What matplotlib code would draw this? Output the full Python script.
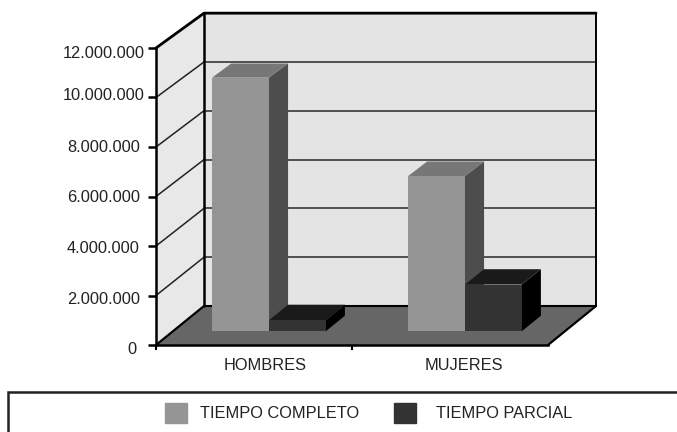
import matplotlib
matplotlib.use('Agg')
import matplotlib.pyplot as plt
from matplotlib.patches import Rectangle, Patch
from matplotlib.transforms import ScaledTranslation

plt.rcParams['font.family'] = ['Liberation Sans', 'DejaVu Sans']

# Workers by sex and type of working day
categories = ['HOMBRES', 'MUJERES']
tiempo_completo = [10300000, 6300000]
tiempo_parcial = [450000, 1900000]
tick_values = [0, 2000000, 4000000, 6000000, 8000000, 10000000, 12000000]
tick_labels = ['0', '2.000.000', '4.000.000', '6.000.000', '8.000.000', '10.000.000', '12.000.000']

fig = plt.figure(figsize=(6.77, 4.32), dpi=100)
ax = fig.add_axes([156 / 677, (432 - 345) / 432, 392 / 677, 297 / 432])
ax.set_xlim(0, 2)
ax.set_ylim(0, 12000000)

# Oblique projection: depth 0 is the front plane, depth 1 the back wall
DX = 0.245
DY = 1576000
SHRINK = 0.014


def project(x, y, depth):
    return x + DX * depth, y * (1 - SHRINK * depth) + DY * depth


def face(points, color, z, **kwargs):
    xs, ys = zip(*[project(*p) for p in points])
    ax.fill(xs, ys, color=color, lw=0, zorder=z, clip_on=False, **kwargs)


def line(points, lw, color='black', z=2):
    xs, ys = zip(*[project(*p) for p in points])
    ax.plot(xs, ys, color=color, lw=lw, zorder=z, clip_on=False, solid_capstyle='round')


def box(x0, x1, value, front, top, side, z):
    d0, d1 = 0.35, 0.75
    face([(x0, 0, d0), (x1, 0, d0), (x1, value, d0), (x0, value, d0)], front, z + 0.2)
    face([(x0, value, d0), (x1, value, d0), (x1, value, d1), (x0, value, d1)], top, z + 0.1)
    face([(x1, 0, d0), (x1, 0, d1), (x1, value, d1), (x1, value, d0)], side, z)


top = tick_values[-1]

# Walls and floor
face([(0, 0, 1), (2, 0, 1), (2, top, 1), (0, top, 1)], '#e4e4e4', 1)
face([(0, 0, 0), (0, 0, 1), (0, top, 1), (0, top, 0)], '#e8e8e8', 1)
face([(0, 0, 0), (2, 0, 0), (2, 0, 1), (0, 0, 1)], '#666666', 1)

# Gridlines on both walls
for v in tick_values[1:-1]:
    line([(0, v, 0), (0, v, 1)], 1.1, '#222222')
    line([(0, v, 1), (2, v, 1)], 1.3, '#444444')

# Frame of the box
line([(0, top, 0), (0, top, 1), (2, top, 1)], 2.0)
line([(0, 0, 1), (0, top, 1)], 1.8)
line([(2, 0, 1), (2, top, 1)], 1.4)
line([(0, 0, 1), (2, 0, 1)], 1.5)
line([(0, 0, 0), (0, 0, 1)], 1.6)
line([(2, 0, 0), (2, 0, 1)], 1.6)

# Bars
centers = [0.49, 1.49]
width = 0.29
for i, c in enumerate(centers):
    box(c - width, c, tiempo_completo[i], '#959595', '#777777', '#4d4d4d', 5 + i)
    box(c, c + width, tiempo_parcial[i], '#333333', '#1a1a1a', '#000000', 5.5 + i)

# Front axes
ax.patch.set_visible(False)
for s in ['top', 'right']:
    ax.spines[s].set_visible(False)
ax.spines['left'].set_linewidth(1.8)
ax.spines['bottom'].set_linewidth(1.8)
ax.spines['left'].set_zorder(4)
ax.spines['bottom'].set_zorder(4)
ax.set_yticks(tick_values)
ax.set_yticklabels(tick_labels, fontsize=11.8, color='#222222')
ax.tick_params(axis='y', length=5.8, width=1.8, pad=2.5)
ax.set_xticks([0, 1])
ax.set_xticklabels([])
ax.tick_params(axis='x', length=3.6, width=1.5)

# The value labels are not evenly placed next to their ticks (shifts in pixels)
label_dx = [-7.5, -4.5, -4.5, -4.5, -4.5, 0.5, 0.5]
label_dy = [-3, -2, -1, 0, 0.5, 3, -4.5]
for lab, dx, dy in zip(ax.get_yticklabels(), label_dx, label_dy):
    shift = ScaledTranslation(dx / 100, dy / 100, fig.dpi_scale_trans)
    lab.set_transform(lab.get_transform() + shift)

# Category names sit under the bars rather than under the ticks
ax.set_xticks([0.555, 1.57], labels=categories, minor=True, fontsize=11.8, color='#222222')
ax.tick_params(axis='x', which='minor', length=0, pad=9)

# Legend box, open towards the right and bottom edges
fig.add_artist(Rectangle((8 / 677, -0.1), 1, (432 - 392) / 432 + 0.1, transform=fig.transFigure,
                         fill=False, ec='#222222', lw=1.8))
legend_y = (432 - 413) / 432
fig.legend(handles=[Patch(color='#959595', label='TIEMPO COMPLETO')], loc='center left',
           bbox_to_anchor=(165 / 677, legend_y), frameon=False, borderpad=0, borderaxespad=0,
           fontsize=11.8, handlelength=1.35, handleheight=1.59, handletextpad=0.8, labelcolor='#222222')
fig.legend(handles=[Patch(color='#333333', label='TIEMPO PARCIAL')], loc='center left',
           bbox_to_anchor=(394 / 677, legend_y), frameon=False, borderpad=0, borderaxespad=0,
           fontsize=11.8, handlelength=1.35, handleheight=1.59, handletextpad=1.22, labelcolor='#222222')

fig.savefig('out.png', dpi=100)
